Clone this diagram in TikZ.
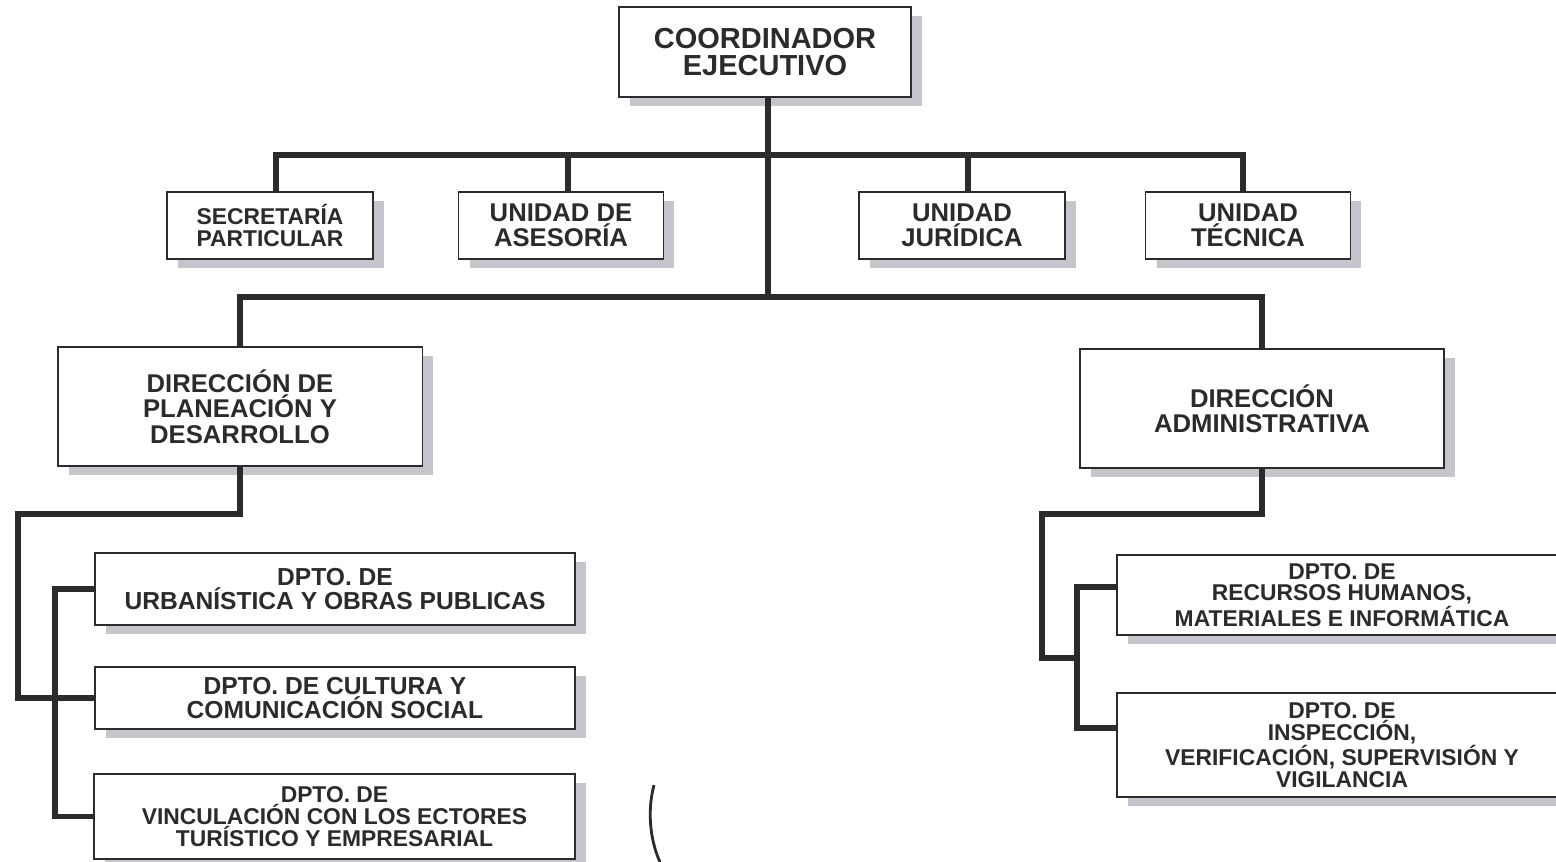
\documentclass[tikz,border=0pt]{standalone}
\usepackage{fontspec}
\setmainfont{Liberation Sans}
\usepackage{tikz}
\usetikzlibrary{shadows}
\definecolor{ink}{HTML}{2B2B2B}
\definecolor{shade}{HTML}{C5C6CB}

\begin{document}
\begin{tikzpicture}[
            x = 0.02cm, y = -0.02cm, % one unit per pixel, y going down
            link/.style = {line width = 3.3pt, draw = ink, line join = miter}, % connector lines
            every node/.style = {align = center, text = ink, font = \bfseries}
        ]

        \tikzstyle{box}=[
            draw = ink,
            line width = 1.1pt,
            fill = white,
            inner sep = 0pt,
            general shadow = {fill = shade, shadow xshift = 0.22cm, shadow yshift = -0.18cm}
        ]
        \tikzstyle{big}=[font = \bfseries\fontsize{16.5pt}{15.5pt}\selectfont]
        \tikzstyle{mid}=[font = \bfseries\fontsize{14.6pt}{14.4pt}\selectfont]
        \tikzstyle{dpt}=[font = \bfseries\fontsize{14pt}{14pt}\selectfont]
        \tikzstyle{small}=[font = \bfseries\fontsize{13pt}{12.4pt}\selectfont]

        \useasboundingbox (0,0) rectangle (1556,862);
        \clip (0,0) rectangle (1556,862);

        \node[box, big, minimum width = 5.84cm, minimum height = 1.8cm] (CE) at (765,52) {COORDINADOR \\ EJECUTIVO};

        \node[box, small, minimum width = 4.12cm, minimum height = 1.34cm] (SP) at (270,225.5) {SECRETARÍA \\ PARTICULAR};
        \node[box, mid, minimum width = 4.1cm, minimum height = 1.34cm] (UA) at (561,225.5) {UNIDAD DE \\ ASESORÍA};
        \node[box, mid, minimum width = 4.12cm, minimum height = 1.34cm] (UJ) at (962,225.5) {UNIDAD \\ JURÍDICA};
        \node[box, mid, minimum width = 4.1cm, minimum height = 1.34cm] (UT) at (1248,225.5) {UNIDAD \\ TÉCNICA};

        \node[box, mid, minimum width = 7.3cm, minimum height = 2.38cm] (DPD) at (240,406.5) {DIRECCIÓN DE \\ PLANEACIÓN Y \\ DESARROLLO};
        \node[box, mid, minimum width = 7.28cm, minimum height = 2.38cm] (DA) at (1262,408.5) {DIRECCIÓN \\ ADMINISTRATIVA};

        \node[box, dpt, minimum width = 9.62cm, minimum height = 1.44cm] (DUO) at (335,589) {DPTO. DE \\ URBANÍSTICA Y OBRAS PUBLICAS};
        \node[box, dpt, minimum width = 9.62cm, minimum height = 1.24cm] (DCS) at (335,698) {DPTO. DE CULTURA Y \\ COMUNICACIÓN SOCIAL};
        \node[box, small, minimum width = 9.62cm, minimum height = 1.7cm] (DVS) at (334.5,816.5) {DPTO. DE \\ VINCULACIÓN CON LOS ECTORES \\ TURÍSTICO Y EMPRESARIAL};

        \node[box, small, minimum width = 9cm, minimum height = 1.6cm] (DRH) at (1342,595) {DPTO. DE \\ RECURSOS HUMANOS, \\ MATERIALES E INFORMÁTICA};
        \node[box, small, minimum width = 9cm, minimum height = 2.08cm] (DIV) at (1342,745) {DPTO. DE \\ INSPECCIÓN, \\ VERIFICACIÓN, SUPERVISIÓN Y \\ VIGILANCIA};

        \coordinate (L1) at (18,514);
        \coordinate (L2) at (55,700);
        \coordinate (R1) at (1042,514);
        \coordinate (R2) at (1077,658);

        \draw[link] ([xshift=0.06cm]CE.south) -- ++(0,201);
        \draw[link] ([xshift=0.12cm]SP.north) -- ++(0,-36) -| ([xshift=-0.1cm]UT.north);
        \draw[link] ([xshift=0.14cm]UA.north) -- ++(0,-36);
        \draw[link] ([xshift=0.12cm]UJ.north) -- ++(0,-36);
        \draw[link] (DPD.north) -- ++(0,-49) -| (DA.north);

        \draw[link] (DPD.south) |- (L1) |- (DCS.west);
        \draw[link] (DUO.west) -- (DUO.west -| L2) |- (DVS.west);

        \draw[link] (DA.south) |- (R1) |- (R2);
        \draw[link] ([yshift=0.16cm]DRH.west) -| (R2) |- ([yshift=0.34cm]DIV.west);

        \draw[ink, line width = 1.6pt] (654,785) .. controls (646,815) and (652,845) .. (660,862);

    \end{tikzpicture}
\end{document}
